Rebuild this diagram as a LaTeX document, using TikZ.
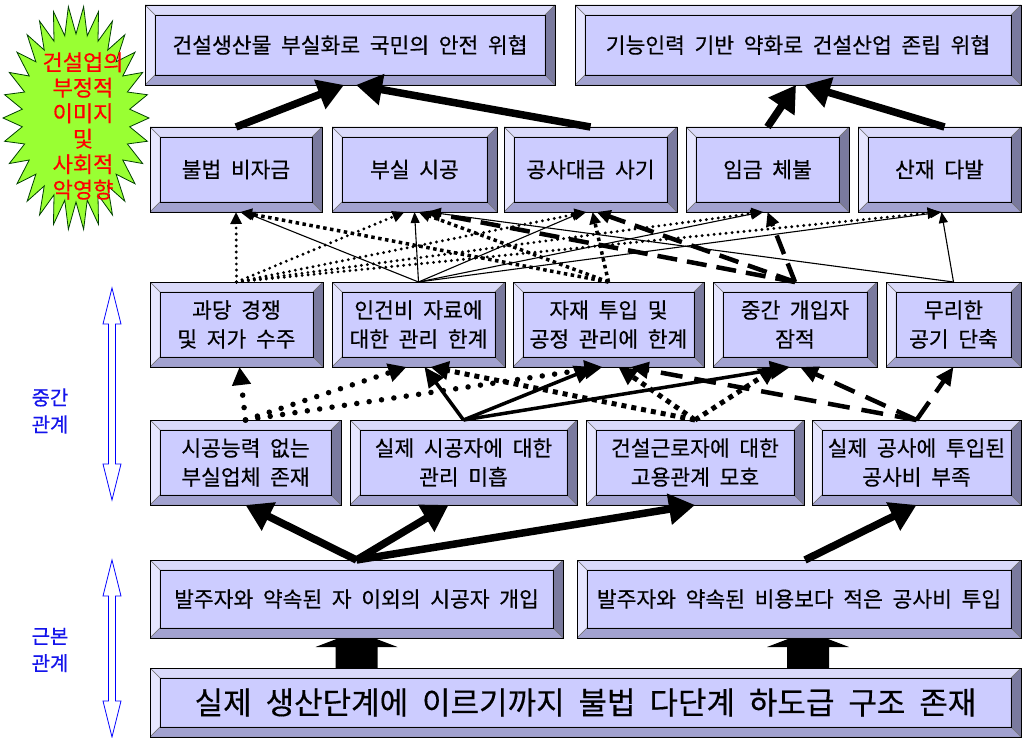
\documentclass[tikz,border=0pt]{standalone}
\usepackage{fontspec}
\setmainfont{Noto Sans CJK KR}[WordSpace=2,FakeBold=0.4]
\usetikzlibrary{arrows.meta,calc}
\definecolor{face}{RGB}{204,204,255}
\definecolor{bvtop}{RGB}{218,218,250}
\definecolor{bvleft}{RGB}{230,230,255}
\definecolor{bvright}{RGB}{122,122,158}
\definecolor{bvbot}{RGB}{162,162,208}
\definecolor{burstgreen}{RGB}{153,255,51}
\definecolor{lblblue}{RGB}{20,20,235}
\tikzset{
  bbox/.style={draw=black, line width=0.8pt, fill=face, inner sep=0pt, outer sep=0pt, align=center,
    font=\fontsize{21.5}{29}\selectfont,
    path picture={
      \coordinate (pNW) at (path picture bounding box.north west);
      \coordinate (pSE) at (path picture bounding box.south east);
      \coordinate (pNE) at (path picture bounding box.north east);
      \coordinate (pSW) at (path picture bounding box.south west);
      \coordinate (qNW) at ($(pNW)+(10,10)$);
      \coordinate (qNE) at ($(pNE)+(-10,10)$);
      \coordinate (qSE) at ($(pSE)+(-10,-10)$);
      \coordinate (qSW) at ($(pSW)+(10,-10)$);
      \filldraw[fill=bvtop, draw=black!55, line width=0.4pt] (pNW)--(pNE)--(qNE)--(qNW)--cycle;
      \filldraw[fill=bvleft, draw=black!55, line width=0.4pt] (pNW)--(qNW)--(qSW)--(pSW)--cycle;
      \filldraw[fill=bvright, draw=black!55, line width=0.4pt] (pNE)--(pSE)--(qSE)--(qNE)--cycle;
      \filldraw[fill=bvbot, draw=black!55, line width=0.4pt] (pSW)--(pSE)--(qSE)--(qSW)--cycle;
      \draw[line width=0.8pt] (qNW) rectangle (qSE);
    }},
  wh/.style 2 args={minimum width=#1pt, minimum height=#2pt},
  thk/.style={line width=7.5pt, -{Triangle[length=26pt,width=30pt]}},
  thinln/.style={line width=1.1pt, -{Triangle[length=11pt,width=9pt]}},
  dotA/.style={line width=3.2pt, line cap=round, dash pattern=on 0pt off 6pt, -{Triangle[length=12pt,width=11pt]}},
  sqA/.style={line width=3.5pt, dash pattern=on 3.5pt off 3.5pt, -{Triangle[length=12pt,width=11pt]}},
  dashA/.style={line width=4.5pt, dash pattern=on 20pt off 10pt, -{Triangle[length=14pt,width=13pt]}},
  dotB/.style={line width=5.5pt, line cap=round, dash pattern=on 0pt off 12.5pt, -{Triangle[length=18pt,width=18pt]}},
  sqB/.style={line width=5pt, dash pattern=on 5pt off 5pt, -{Triangle[length=18pt,width=18pt]}},
  solB/.style={line width=3.5pt, -{Triangle[length=20pt,width=18pt]}},
  dashB/.style={line width=4.5pt, dash pattern=on 22pt off 12pt, -{Triangle[length=18pt,width=16pt]}},
  lbl/.style={text=lblblue, align=center, font=\fontsize{20}{27}\selectfont}
}
\newcommand\vdblarrow[3]{\draw[blue, line width=0.8pt, fill=white] (#1,#2) -- (#1+9,#2+36) -- (#1+3.5,#2+36) -- (#1+3.5,#3-36) -- (#1+9,#3-36) -- (#1,#3) -- (#1-9,#3-36) -- (#1-3.5,#3-36) -- (#1-3.5,#2+36) -- (#1-9,#2+36) -- cycle;}
\newcommand\blockup[1]{\fill[black] ($#1+(-21,30)$) -- ($#1+(-21,9)$) -- ($#1+(-41,9)$) -- ($#1+(-20,1)$) -- ($#1+(20,1)$) -- ($#1+(41,9)$) -- ($#1+(21,9)$) -- ($#1+(21,30)$) -- cycle;}
\begin{document}
\begin{tikzpicture}[x=1pt,y=-1pt]
\useasboundingbox (0,0) rectangle (1023,738);
\fill[white] (0,0) rectangle (1023,738);
% starburst
\filldraw[fill=burstgreen, draw=black!75!green, line width=0.8pt] (149,118)
  \foreach \k in {0,...,29} { -- ({76+54*cos(\k*12+6)},{118+84*sin(\k*12+6)}) -- ({76+73*cos(\k*12+12)},{118+112*sin(\k*12+12)}) } -- cycle;
\node[text=red, align=center, font=\fontsize{22}{25.5}\selectfont] (burst) at (83,126) {건설업의\\부정적\\이미지\\및\\사회적\\악영향};
% side labels
\vdblarrow{112}{288}{500}
\vdblarrow{112}{560}{737}
\node[lbl] (midlbl) at (50,411) {중간\\관계};
\node[lbl] (baselbl) at (50,650) {근본\\관계};
% row 1
\node[bbox, wh={410}{80}] (T1) at (350,45) {건설생산물 부실화로 국민의 안전 위협};
\node[bbox, wh={446}{80}] (T2) at (798,45) {기능인력 기반 약화로 건설산업 존립 위협};
% row 2
\node[bbox, wh={172}{85}] (B1) at (236,169.5) {불법 비자금};
\node[bbox, wh={165}{85}] (B2) at (414.5,169.5) {부실 시공};
\node[bbox, wh={173}{85}] (B3) at (590.5,169.5) {공사대금 사기};
\node[bbox, wh={163}{85}] (B4) at (767.5,169.5) {임금 체불};
\node[bbox, wh={163}{85}] (B5) at (939.5,169.5) {산재 다발};
% row 3
\node[bbox, wh={173}{85}] (M1) at (236.5,324.5) {과당 경쟁\\및 저가 수주};
\node[bbox, wh={173}{85}] (M2) at (418.5,324.5) {인건비 자료에\\대한 관리 한계};
\node[bbox, wh={191}{85}] (M3) at (608.5,324.5) {자재 투입 및\\공정 관리에 한계};
\node[bbox, wh={164}{85}] (M4) at (795,324.5) {중간 개입자\\잠적};
\node[bbox, wh={135}{85}] (M5) at (953.5,324.5) {무리한\\공기 단축};
% row 4
\node[bbox, wh={191}{85}] (L1) at (245.5,462.5) {시공능력 없는\\부실업체 존재};
\node[bbox, wh={227}{85}] (L2) at (463.5,462.5) {실제 시공자에 대한\\관리 미흡};
\node[bbox, wh={218}{85}] (L3) at (695,462.5) {건설근로자에 대한\\고용관계 모호};
\node[bbox, wh={209}{85}] (L4) at (916.5,462.5) {실제 공사에 투입된\\공사비 부족};
% row 5
\node[bbox, wh={413}{78}, font=\fontsize{21.5}{28}\selectfont] (R1) at (356.5,599) {발주자와 약속된 자 이외의 시공자 개입};
\node[bbox, wh={444}{78}, font=\fontsize{21.5}{28}\selectfont] (R2) at (799,599) {발주자와 약속된 비용보다 적은 공사비 투입};
% row 6
\node[bbox, wh={871}{69}, font=\fontsize{31}{36}\selectfont] (S) at (585.5,702.5) {실제 생산단계에 이르기까지 불법 다단계 하도급 구조 존재};
% block arrows
\blockup{(R1.south)}
\blockup{(R2.south)+(9,0)}
% top thick arrows
\draw[thk] (B1.north) -- ($(T1.south)+(-6,0)$);
\draw[thk] (B3.north) -- ($(T1.south)+(6,0)$);
\draw[thk] (B4.north) -- ($(T2.south)+(-2,0)$);
\draw[thk] ($(B5.north)+(5,0)$) -- ($(T2.south)+(6,0)$);
% bottom thick arrows
\draw[thk] (R1.north) -- (L1.south);
\draw[thk] (R1.north) -- ($(L2.south)+(-15,0)$);
\draw[thk] (R1.north) -- (L3.south);
\draw[thk] ($(R2.north)+(6,0)$) -- (L4.south);
% row 4 -> row 3
\draw[dotB] (L1.north) -- ($(M1.south)+(3,0)$);
\draw[dotB] (L1.north) -- ($(M2.south)+(-12,0)$);
\draw[dotB] (L1.north) -- ($(M3.south)+(-6,0)$);
\draw[solB] (L2.north) -- ($(M2.south)+(6,0)$);
\draw[solB] (L2.north) -- ($(M3.south)+(-14,0)$);
\draw[solB] (L2.north) -- ($(M4.south)+(-5,0)$);
\draw[sqB] (L3.north) -- ($(M2.south)+(12,0)$);
\draw[sqB] (L3.north) -- ($(M3.south)+(10,0)$);
\draw[sqB] (L3.north) -- ($(M4.south)+(-18,0)$);
\draw[dashB] (L4.north) -- ($(M3.south)+(22,0)$);
\draw[dashB] (L4.north) -- ($(M4.south)+(5,0)$);
\draw[dashB] (L4.north) -- (M5.south);
% row 3 -> row 2
\draw[dotA] (M1.north) -- (B1.south);
\draw[dotA] (M1.north) -- ($(B2.south)+(-10,0)$);
\draw[dotA] (M1.north) -- ($(B3.south)+(-4,0)$);
\draw[dotA] (M1.north) -- ($(B4.south)+(-4,0)$);
\draw[dotA] (M1.north) -- (B5.south);
\draw[thinln] (M2.north) -- ($(B1.south)+(8,0)$);
\draw[thinln] (M2.north) -- (B2.south);
\draw[thinln] (M2.north) -- ($(B3.south)+(-8,0)$);
\draw[thinln] (M2.north) -- ($(B4.south)+(-6,0)$);
\draw[thinln] (M2.north) -- ($(B5.south)+(2,0)$);
\draw[sqA] (M3.north) -- ($(B1.south)+(4,0)$);
\draw[sqA] (M3.north) -- ($(B2.south)+(4,0)$);
\draw[sqA] (M3.north) -- ($(B3.south)+(2,0)$);
\draw[dashA] (M4.north) -- ($(B2.south)+(12,0)$);
\draw[dashA] (M4.north) -- ($(B3.south)+(6,0)$);
\draw[dashA] (M4.north) -- (B4.south);
\draw[thinln] (M5.north) -- ($(B5.south)+(2,0)$);
\draw[thinln] (M5.north) -- ($(B2.south)+(14,0)$);
\end{tikzpicture}
\end{document}
